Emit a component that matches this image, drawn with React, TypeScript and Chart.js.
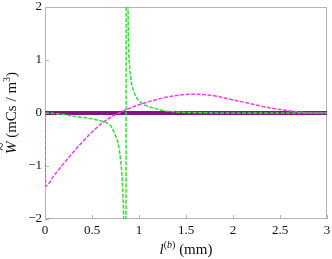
import React, { useEffect, useRef } from 'react';
import { Chart, registerables } from 'chart.js';

Chart.register(...registerables);

const xTickValues = [0, 0.5, 1, 1.5, 2, 2.5, 3];
const yTickValues = [-2, -1, 0, 1, 2];

const purpleX = [0, 3];
const purpleY = [0, 0];

const magentaX = [0, 0.005, 0.1, 0.2, 0.3, 0.4, 0.5, 0.6, 0.7, 0.8, 0.9, 1.0, 1.1, 1.2, 1.3, 1.4, 1.5, 1.6, 1.7, 1.8, 1.9, 2.0, 2.1, 2.2, 2.3, 2.4, 2.5, 2.6, 2.7, 2.8, 2.9, 3.0];
const magentaY = [0, -1.38, -1.17, -0.95, -0.74, -0.54, -0.36, -0.2, -0.08, 0.01, 0.09, 0.155, 0.21, 0.26, 0.3, 0.33, 0.35, 0.355, 0.345, 0.325, 0.29, 0.245, 0.21, 0.17, 0.13, 0.095, 0.065, 0.04, 0.02, 0.005, 0, 0];

const greenX = [0, 0.1, 0.2, 0.3, 0.4, 0.5, 0.6, 0.65, 0.7, 0.74, 0.77, 0.79, 0.81, 0.82, 0.83, 0.84, 0.85, 0.875, 0.883, 0.886, 0.895, 0.904, 0.92, 0.94, 0.96, 0.99, 1.05, 1.1, 1.2, 1.28, 1.4, 1.5, 1.7, 2.0, 3.0];
const greenY = [0, -0.01, -0.03, -0.06, -0.08, -0.11, -0.15, -0.18, -0.24, -0.38, -0.52, -0.68, -0.98, -1.2, -1.55, -2.1, -30, 30, 2.05, 1.45, 1.0, 0.78, 0.56, 0.43, 0.33, 0.245, 0.16, 0.12, 0.07, 0.04, 0.02, 0.01, 0.003, 0, 0];

const toPoints = (xs: number[], ys: number[]) => xs.map((x, i) => ({ x, y: ys[i] }));

const SERIF = "'Liberation Serif', 'Times New Roman', serif";
const FRAME = '#b4b4b4';
const fmt = (v: number) => String(v).replace('-', '\u2212');

const framePlugin = {
  id: 'framePlugin',
  beforeDatasetsDraw(chart: any) {
    const { ctx, chartArea: a, scales } = chart;
    ctx.save();
    ctx.strokeStyle = FRAME;
    ctx.lineWidth = 1;
    ctx.strokeRect(a.left + 0.5, a.top + 0.5, a.right - a.left - 1, a.bottom - a.top - 1);
    ctx.beginPath();
    for (const v of xTickValues) {
      const px = Math.round(scales.x.getPixelForValue(v)) + 0.5;
      ctx.moveTo(px, a.bottom);
      ctx.lineTo(px, a.bottom - 4);
    }
    for (const v of yTickValues) {
      const py = Math.round(scales.y.getPixelForValue(v)) + 0.5;
      ctx.moveTo(a.left, py);
      ctx.lineTo(a.left + 4, py);
    }
    ctx.stroke();

    // tick labels
    ctx.fillStyle = '#111';
    ctx.font = `13px ${SERIF}`;
    ctx.textAlign = 'center';
    ctx.textBaseline = 'alphabetic';
    for (const v of xTickValues) {
      ctx.fillText(fmt(v), scales.x.getPixelForValue(v), a.bottom + 15);
    }
    ctx.textAlign = 'right';
    ctx.textBaseline = 'middle';
    for (const v of yTickValues) {
      ctx.fillText(fmt(v), a.left - 3, scales.y.getPixelForValue(v));
    }
    ctx.restore();
  },
  afterDraw(chart: any) {
    const { ctx, chartArea: a } = chart;
    ctx.save();
    ctx.fillStyle = '#111';
    ctx.textBaseline = 'alphabetic';
    const fs = 15;
    const norm = `${fs}px ${SERIF}`;
    const ital = `italic ${fs}px ${SERIF}`;
    const supN = `10px ${SERIF}`;
    const supI = `italic 10px ${SERIF}`;

    // X title: l^(b) (mm)
    const xParts: [string, string, number][] = [
      ['l', ital, 0],
      ['(', supN, -6],
      ['b', supI, -6],
      [')', supN, -6],
      [' (mm)', norm, 0],
    ];
    let total = 0;
    for (const [t, f] of xParts) { ctx.font = f; total += ctx.measureText(t).width; }
    let cx = (a.left + a.right) / 2 - total / 2;
    const by = 254;
    for (const [t, f, dy] of xParts) {
      ctx.font = f;
      ctx.fillText(t, cx, by + dy);
      cx += ctx.measureText(t).width;
    }

    // Y title: W~ (mCs / m^3)
    ctx.translate(16, (a.top + a.bottom) / 2);
    ctx.rotate(-Math.PI / 2);
    const yParts: [string, string, number][] = [
      ['W', ital, 0],
      [' (mCs / m', norm, 0],
      ['3', supN, -6],
      [')', norm, 0],
    ];
    total = 0;
    for (const [t, f] of yParts) { ctx.font = f; total += ctx.measureText(t).width; }
    let cy = -total / 2;
    for (const [t, f, dy] of yParts) {
      ctx.font = f;
      if (t === 'W') {
        const w = ctx.measureText('W').width;
        ctx.fillText(t, cy, dy);
        ctx.font = norm;
        const tw = ctx.measureText('~').width;
        ctx.fillText('~', cy + w / 2 - tw / 2 + 1, -9);
        cy += w;
      } else {
        ctx.fillText(t, cy, dy);
        cy += ctx.measureText(t).width;
      }
    }
    ctx.restore();
  },
};

export default function App() {
  const ref = useRef<HTMLCanvasElement | null>(null);
  useEffect(() => {
    if (!ref.current) return;
    const chart = new Chart(ref.current, {
      type: 'line',
      data: {
        datasets: [
          {
            data: toPoints(greenX, greenY),
            borderColor: '#33e033',
            borderWidth: 1.5,
            borderDash: [4, 1.5],
            pointRadius: 0,
            tension: 0,
            fill: false,
            clip: 0,
          } as any,
          {
            data: toPoints(magentaX, magentaY),
            borderColor: '#f03cf0',
            borderWidth: 1.5,
            borderDash: [4, 1.5],
            pointRadius: 0,
            cubicInterpolationMode: 'monotone',
            fill: false,
            clip: 0,
          } as any,
          {
            data: toPoints(purpleX, purpleY),
            borderColor: '#7f1580',
            borderWidth: 4,
            pointRadius: 0,
            tension: 0,
            fill: false,
            clip: 0,
          } as any,
        ],
      },
      options: {
        responsive: false,
        animation: false,
        events: [],
        layout: { padding: { left: 0, right: 5, top: 7, bottom: 0 } },
        plugins: { legend: { display: false }, tooltip: { enabled: false }, title: { display: false } },
        scales: {
          x: {
            type: 'linear',
            min: 0,
            max: 3,
            afterFit: (s: any) => { s.height = 40; },
            afterBuildTicks: (s: any) => { s.ticks = xTickValues.map((v) => ({ value: v })); },
            ticks: { display: false },
            grid: { display: false, drawTicks: false },
            border: { display: false },
          },
          y: {
            type: 'linear',
            min: -2,
            max: 2,
            afterFit: (s: any) => { s.width = 45; },
            afterBuildTicks: (s: any) => { s.ticks = yTickValues.map((v) => ({ value: v })); },
            ticks: { display: false },
            grid: { display: false, drawTicks: false },
            border: { display: false },
          },
        },
      },
      plugins: [framePlugin],
    });
    return () => chart.destroy();
  }, []);
  return (
    <div style={{ position: 'absolute', left: 0, top: 0, width: 332, height: 259 }}>
      <canvas ref={ref} width={332} height={259} style={{ width: 332, height: 259, display: 'block' }} />
    </div>
  );
}
